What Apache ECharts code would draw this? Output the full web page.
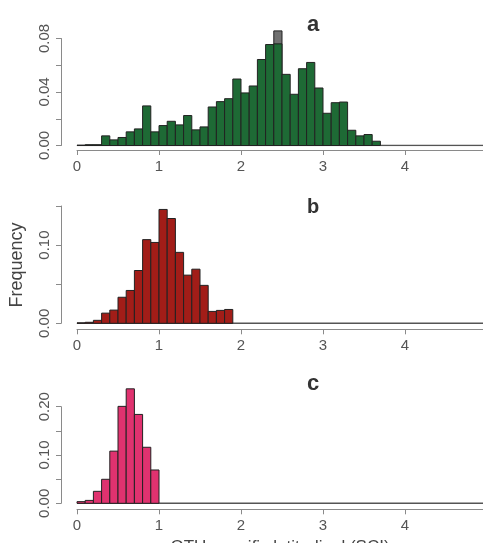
<!DOCTYPE html>
<html>
<head>
<meta charset="utf-8">
<script src="https://cdn.jsdelivr.net/npm/echarts@6/dist/echarts.min.js"></script>
<style>
    html, body { margin: 0; padding: 0; background: #fff; }
    #main { width: 483px; height: 543px; }
</style>
</head>
<body>
<div id="main"></div>
<script>
var binWidth = 0.1;
// a 面板频率 (从 0 开始每 0.1 一个柱)
var freqA = [0.0002, 0.0006, 0.0006, 0.0072, 0.0042, 0.006, 0.0102, 0.0124, 0.0296, 0.0102,
    0.0149, 0.0181, 0.0154, 0.0224, 0.0117, 0.0139, 0.0288, 0.0328, 0.035, 0.0497,
    0.0393, 0.0445, 0.0643, 0.0755, 0.076, 0.0532, 0.0383, 0.0574, 0.0621, 0.043,
    0.0241, 0.032, 0.0325, 0.0114, 0.0072, 0.0082, 0.0032];
// a 面板灰色柱 [起点, 频率]
var greyA = [[2.4, 0.0857]];
// b 面板
var freqB = [0.0005, 0.0013, 0.0038, 0.013, 0.0169, 0.0333, 0.042, 0.0675, 0.107, 0.1034,
    0.1456, 0.134, 0.0907, 0.0616, 0.0692, 0.0485, 0.0152, 0.0165, 0.0177];
// c 面板
var freqC = [0.0034, 0.006, 0.0248, 0.0497, 0.108, 0.2007, 0.237, 0.184, 0.116, 0.069];

var xTicks = [0, 1, 2, 3, 4, 5];
var yMaxA = 0.08, yStepA = 0.02, yLabelA = [0, 0.04, 0.08];
var yMaxB = 0.15, yStepB = 0.05, yLabelB = [0, 0.10];
var yMaxC = 0.20, yStepC = 0.05, yLabelC = [0, 0.10, 0.20];
var panelNames = ['a', 'b', 'c'];

var FONT = 'Liberation Sans, Arial, sans-serif';

function toBins(freq) {
    var out = [];
    for (var i = 0; i < freq.length; i++) {
        out.push([i * binWidth, (i + 1) * binWidth, freq[i]]);
    }
    return out;
}

function histItem(color) {
    return function (params, api) {
        var p0 = api.coord([api.value(0), 0]);
        var p1 = api.coord([api.value(1), api.value(2)]);
        return {
            type: 'rect',
            shape: { x: p0[0], y: p1[1], width: p1[0] - p0[0], height: p0[1] - p1[1] },
            style: { fill: color, stroke: '#222', lineWidth: 1 }
        };
    };
}

function makeX(idx, offset) {
    return {
        type: 'value', gridIndex: idx, min: xTicks[0], max: xTicks[xTicks.length - 1], interval: 1,
        offset: offset,
        axisLine: { show: true, onZero: false, lineStyle: { color: '#8a8a8a', width: 1 } },
        axisTick: { show: true, length: 5, lineStyle: { color: '#8a8a8a' } },
        splitLine: { show: false },
        axisLabel: { color: '#555', fontSize: 15, fontFamily: FONT, margin: 9, hideOverlap: false }
    };
}

function makeY(idx, max, step, labels) {
    return {
        type: 'value', gridIndex: idx, min: 0, max: max, interval: step,
        offset: 16,
        axisLine: { show: true, onZero: false, lineStyle: { color: '#8a8a8a', width: 1 } },
        axisTick: { show: true, length: 5, lineStyle: { color: '#8a8a8a' } },
        splitLine: { show: false },
        axisLabel: {
            color: '#555', fontSize: 15, fontFamily: FONT, rotate: 90, margin: 9,
            formatter: function (v) {
                for (var i = 0; i < labels.length; i++) {
                    if (Math.abs(v - labels[i]) < 1e-6) return v.toFixed(2);
                }
                return '';
            }
        }
    };
}

function baseLine(idx) {
    return {
        type: 'line', xAxisIndex: idx, yAxisIndex: idx, symbol: 'none', silent: true, z: 1,
        data: [[xTicks[0], 0], [xTicks[xTicks.length - 1], 0]],
        lineStyle: { color: '#555', width: 1.6 }
    };
}

function histSeries(idx, data, color, z) {
    return {
        type: 'custom', xAxisIndex: idx, yAxisIndex: idx, clip: false, z: z || 2,
        renderItem: histItem(color),
        encode: { x: [0, 1], y: 2 },
        data: data
    };
}

var greyData = greyA.map(function (d) { return [d[0], d[0] + binWidth, d[1]]; });

var myChart = echarts.init(document.getElementById('main'), null, { renderer: 'canvas' });
var option = {
    backgroundColor: '#fff',
    animation: false,
    grid: [
        { left: 77, top: 38.5, width: 410, height: 107, outerBoundsMode: 'none', containLabel: false },
        { left: 77, top: 206, width: 410, height: 117.3, outerBoundsMode: 'none', containLabel: false },
        { left: 77, top: 406.7, width: 410, height: 96.6, outerBoundsMode: 'none', containLabel: false }
    ],
    xAxis: [makeX(0, 4.5), makeX(1, 6), makeX(2, 6)],
    yAxis: [
        makeY(0, yMaxA, yStepA, yLabelA),
        makeY(1, yMaxB, yStepB, yLabelB),
        makeY(2, yMaxC, yStepC, yLabelC)
    ],
    series: [
        baseLine(0), baseLine(1), baseLine(2),
        histSeries(0, greyData, '#707070', 2),
        histSeries(0, toBins(freqA), '#1e6a35', 3),
        histSeries(1, toBins(freqB), '#a21d18', 3),
        histSeries(2, toBins(freqC), '#e0326f', 3)
    ],
    graphic: [
        { type: 'text', x: 313, y: 36, style: { text: panelNames[0], fill: '#333', font: 'bold 22px ' + FONT, textAlign: 'center', textVerticalAlign: 'bottom' } },
        { type: 'text', x: 313, y: 217, style: { text: panelNames[1], fill: '#333', font: 'bold 20px ' + FONT, textAlign: 'center', textVerticalAlign: 'bottom' } },
        { type: 'text', x: 313, y: 395, style: { text: panelNames[2], fill: '#333', font: 'bold 22px ' + FONT, textAlign: 'center', textVerticalAlign: 'bottom' } },
        { type: 'text', x: 17, y: 265, rotation: Math.PI / 2, style: { text: 'Frequency', fill: '#444', font: '18px ' + FONT, textAlign: 'center', textVerticalAlign: 'middle' } },
        { type: 'text', x: 280, y: 539, style: { text: 'OTU-specific latitudinal (SCI)', fill: '#444', font: '17px ' + FONT, textAlign: 'center', textVerticalAlign: 'top' } }
    ]
};
myChart.setOption(option);
</script>
</body>
</html>
